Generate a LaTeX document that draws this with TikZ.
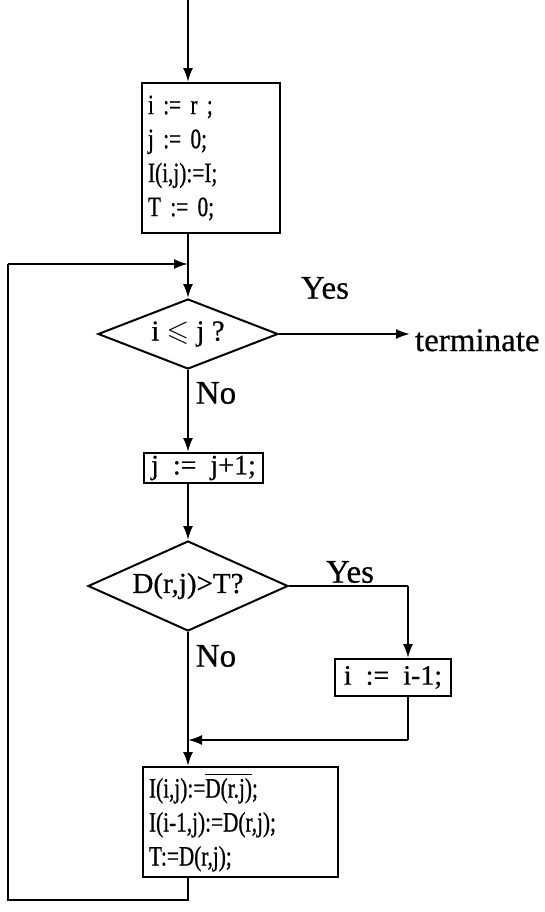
\documentclass[tikz,border=0pt]{standalone}
\usepackage{fontspec}
\setmainfont[FakeBold=0.6]{Liberation Serif}
\newfontfamily\narrowfont[FakeBold=0.7, FakeStretch=0.76]{Liberation Serif}
\usepackage{amssymb}
\usetikzlibrary{shapes.geometric, arrows.meta, calc, positioning}
\newcommand{\wsp}{\hspace{0.5em}}

\begin{document}
\begin{tikzpicture}[x=0.5pt, y=-0.5pt, line width=1pt]%{{{
        \useasboundingbox (0, 0) rectangle (545, 912);

        \tikzstyle{blk} = [draw, rectangle, inner sep=0pt, font=\fontsize{14}{17}\selectfont];
        \tikzstyle{lst} = [draw, rectangle, anchor=north west, align=left, inner sep=0pt, inner xsep=3pt,
                           font=\narrowfont\fontsize{14}{17}\selectfont];
        \tikzstyle{dec} = [draw, diamond, inner sep=0pt, aspect=2.2, font=\fontsize{14.5}{16}\selectfont];
        \tikzstyle{lbl} = [font=\fontsize{16.5}{18}\selectfont];
        \tikzstyle{a} = [-{Latex[length=7pt, width=5pt]}];

        \coordinate (S) at (188, 0);
        \coordinate (J) at (188, 264);

        \node [lst, text width=63pt, minimum height=75pt] (B1) at (141, 82)
            {i := r ;\\ j := 0;\\ I(i,j):=I;\\ T := 0;};
        \node [dec, minimum width=90pt, minimum height=35pt] (D1) at (188, 334) {i $\leqslant$ j ?};
        \node [blk, anchor=north west, minimum width=59.5pt, minimum height=15pt] (B2) at (143, 452)
            {j\wsp:=\wsp j+1;};
        \node [dec, minimum width=100pt, minimum height=45pt] (D2) at (188, 586) {D(r,j)>T?};
        \node [blk, anchor=north west, minimum width=58pt, minimum height=18.5pt] (B4) at (334, 658)
            {i\wsp:=\wsp i-1;};
        \node [lst, text width=91.5pt, minimum height=55pt] (B3) at (142, 766)
            {I(i,j):=$\overline{\mbox{D(r.j)}}$;\\ I(i-1,j):=D(r,j);\\ T:=D(r,j);};

        \node [lbl, anchor=base west, inner xsep=2pt] (T) at (410, 351) {terminate};
        \node [lbl] (Y1) at (325, 288) {Yes};
        \node [lbl] (N1) at (216, 393) {No};
        \node [lbl] (Y2) at (350, 572) {Yes};
        \node [lbl] (N2) at (216, 656) {No};

        \coordinate (C1) at (408, 586);
        \coordinate (C2) at (408, 740);
        \coordinate (C3) at (188, 740);
        \coordinate (L1) at (188, 900);
        \coordinate (L2) at (8, 900);
        \coordinate (L3) at (8, 264);

        \draw [a] (S) -- (S |- B1.north);
        \draw (S |- B1.south) -- (J);
        \draw [a] (J) -- (D1.north);
        \draw [a] (D1.east) -- (T.west |- D1.east);
        \draw [a] (D1.south) -- (D1.south |- B2.north);
        \draw [a] (D1.south |- B2.south) -- (D2.north);
        \draw (D2.east) -- (C1);
        \draw [a] (C1) -- (C1 |- B4.north);
        \draw (C1 |- B4.south) -- (C2);
        \draw [a] (C2) -- (C3);
        \draw [a] (D2.south) -- (D2.south |- B3.north);
        \draw (D2.south |- B3.south) -- (L1) -- (L2) -- (L3);
        \draw [a] (L3) -- (J);
    \end{tikzpicture}
\end{document}
